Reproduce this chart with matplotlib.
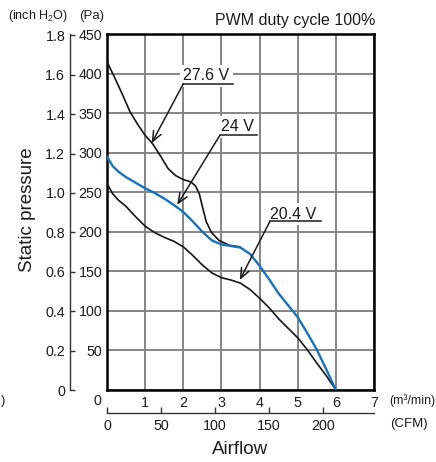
import numpy as np
import matplotlib
matplotlib.use("Agg")
import matplotlib.pyplot as plt

# airflow (m3/min) vs static pressure (Pa)
x_276 = [0.0, 0.2, 0.4, 0.6, 0.8, 1.0, 1.2, 1.4, 1.6, 1.8, 2.0, 2.2, 2.32, 2.42, 2.5,
         2.6, 2.74, 2.94, 3.2, 3.48]
p_276 = [415, 395, 374, 352, 336, 322, 311, 296, 280, 271, 266, 263, 258, 248, 232,
         213, 199, 189, 183, 181]

x_24 = [0.0, 0.15, 0.3, 0.5, 0.75, 1.0, 1.25, 1.5, 1.75, 2.0, 2.25, 2.5, 2.75, 3.0,
        3.25, 3.5, 3.75, 4.0, 4.25, 4.5, 4.75, 5.0, 5.25, 5.5, 5.75, 6.0]
p_24 = [295, 283, 276, 269, 262, 255, 249, 242, 234, 225, 213, 200, 189, 184,
        182, 180, 172, 157, 140, 122, 107, 92, 72, 51, 26, 0]

x_204 = [0.0, 0.15, 0.3, 0.5, 0.75, 1.0, 1.25, 1.5, 1.75, 2.0, 2.25, 2.5, 2.75, 3.0,
         3.25, 3.5, 3.75, 4.0, 4.25, 4.5, 4.75, 5.0, 5.25, 5.5, 5.75, 6.0]
p_204 = [261, 248, 240, 232, 219, 207, 199, 193, 188, 181, 170, 158, 148, 142,
         139, 135, 127, 116, 104, 90, 78, 66, 51, 34, 18, 0]

# labels: text, text centre, underline (x0, x1, y), arrow tip
labels = ["27.6 V", "24 V", "20.4 V"]
label_pos = [(2.60, 397), (3.43, 333), (4.88, 222)]
underlines = [(2.0, 3.31, 387), (2.96, 3.92, 322), (4.27, 5.62, 213)]
tips = [(1.17, 312), (1.84, 234), (3.48, 139)]

pa_ticks = list(range(0, 451, 50))
inch_ticks = [0, 0.2, 0.4, 0.6, 0.8, 1.0, 1.2, 1.4, 1.6, 1.8]
inch_labels = ["0", "0.2", "0.4", "0.6", "0.8", "1.0", "1.2", "1.4", "1.6", "1.8"]
cfm_ticks = [0, 50, 100, 150, 200]

PA_PER_INCH = 249.09
M3_PER_CFM = 0.0283168

plain = ["Liberation Sans", "DejaVu Sans"]
txt = "#1c1c1c"
nsz = 10.3

W, H = 436, 462
fig = plt.figure(figsize=(W / 100, H / 100), dpi=100)


def px(x, y):
    return x / W, 1 - y / H


ax = fig.add_axes([107 / W, (H - 390) / H, 267 / W, 356 / H])
ax.set_xlim(0, 7)
ax.set_ylim(0, 450)
ax.set_xticks(range(8))
ax.set_xticklabels([""] + [str(i) for i in range(1, 8)])
ax.set_yticks(pa_ticks)
ax.set_yticklabels([""] + [str(v) for v in pa_ticks[1:]])
ax.grid(color="#858585", lw=1.4)
ax.set_axisbelow(True)
for s in ax.spines.values():
    s.set_linewidth(1.8)
    s.set_color("black")
ax.tick_params(length=0, labelsize=nsz, labelcolor=txt)
ax.tick_params(axis="y", pad=3.5)
ax.tick_params(axis="x", pad=4.5)
for lab in ax.get_xticklabels() + ax.get_yticklabels():
    lab.set_family(plain)

# shifted "0" of the m3/min scale
fig.text(*px(97.5, 401), "0", ha="center", va="center", fontsize=nsz,
         family=plain, color=txt)

ax.plot(x_276, p_276, color="#151515", lw=1.2, zorder=5)
ax.plot(x_204, p_204, color="#151515", lw=1.2, zorder=5)
ax.plot(x_24, p_24, color="#1574bd", lw=1.7, zorder=6)

for lab, (tx, ty), (u0, u1, uy), tip in zip(labels, label_pos, underlines, tips):
    ax.text(tx, ty, lab, ha="center", va="center", fontsize=11.5, family=plain,
            color=txt, zorder=3,
            bbox=dict(facecolor="white", edgecolor="none", pad=2.5))
    ax.plot([u0, u1], [uy, uy], color=txt, lw=1.1, zorder=4)
    ax.annotate("", xy=tip, xytext=(u0, uy), zorder=7,
                arrowprops=dict(arrowstyle="->,head_length=0.6,head_width=0.25",
                                lw=1.1, color=txt, shrinkA=0, shrinkB=0,
                                mutation_scale=12))

# inch H2O scale
sec = ax.secondary_yaxis(-37 / 267, functions=(lambda p: p / PA_PER_INCH,
                                               lambda i: i * PA_PER_INCH))
sec.set_yticks(inch_ticks)
sec.set_yticklabels(inch_labels)
sec.tick_params(direction="in", length=3.8, width=1.0, color="#333333",
                pad=3.5, labelsize=nsz, labelcolor=txt)
sec.spines["left"].set_linewidth(1.0)
sec.spines["left"].set_color("#333333")
for lab in sec.get_yticklabels():
    lab.set_family(plain)

# CFM scale
secx = ax.secondary_xaxis(-23.3 / 356, functions=(lambda m: m / M3_PER_CFM,
                                                  lambda c: c * M3_PER_CFM))
secx.set_xticks(cfm_ticks)
secx.tick_params(direction="in", length=4.3, width=1.0, color="#333333",
                 pad=4.0, labelsize=nsz, labelcolor=txt)
secx.spines["bottom"].set_linewidth(1.0)
secx.spines["bottom"].set_color("#333333")
for lab in secx.get_xticklabels():
    lab.set_family(plain)

fig.text(*px(38, 16), r"(inch H$_\mathregular{2}$O)", ha="center", va="center",
         fontsize=9, family=plain, color=txt)
fig.text(*px(92, 16), "(Pa)", ha="center", va="center", fontsize=9.5,
         family=plain, color=txt)
fig.text(*px(375, 21), "PWM duty cycle 100%", ha="right", va="center",
         fontsize=11.5, family=plain, color=txt)
fig.text(*px(28, 210), "Static pressure", ha="center", va="center",
         rotation=90, fontsize=13.5, family=plain, color=txt)
fig.text(*px(240.5, 450), "Airflow", ha="center", va="center",
         fontsize=13.5, family=plain, color=txt)
fig.text(*px(389, 401), "(m³/min)", ha="left", va="center", fontsize=8.8,
         family=plain, color=txt)
fig.text(*px(390, 424), "(CFM)", ha="left", va="center", fontsize=9.5,
         family=plain, color=txt)
fig.text(*px(0.5, 401), ")", ha="left", va="center", fontsize=9.5,
         family=plain, color=txt)

fig.savefig("out.png", dpi=100)
